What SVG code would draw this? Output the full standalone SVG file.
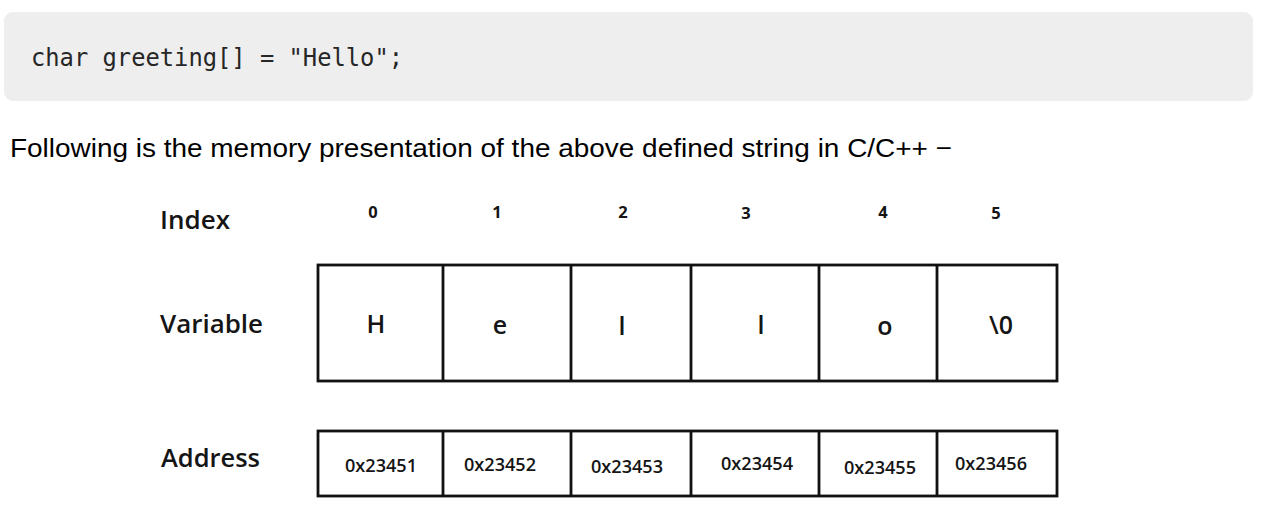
<svg xmlns="http://www.w3.org/2000/svg" width="1275" height="524" viewBox="0 0 1275 524">
<style>
.code{font-family:"DejaVu Sans Mono","Liberation Mono",monospace;font-size:24px;fill:#262626}
.para{font-family:"Liberation Sans",Arial,sans-serif;font-size:26.5px;fill:#000}
.lbl{font-family:"Open Sans","Noto Sans",sans-serif;font-size:25px;font-weight:600;fill:#151515}
.idx{font-family:"Open Sans","Noto Sans",sans-serif;font-size:16.5px;font-weight:700;fill:#151515;text-anchor:middle}
.ch{font-family:"Open Sans","Noto Sans",sans-serif;font-size:25px;font-weight:600;fill:#151515;text-anchor:middle}
.addr{font-family:"Open Sans","Noto Sans",sans-serif;font-size:18px;font-weight:600;fill:#151515;text-anchor:middle}
.cell{fill:#fff;stroke:#111;stroke-width:2.8}
.div{stroke:#111;stroke-width:2.8}
</style>
<rect width="1275" height="524" fill="#fff"/>
<g id="codeblock">
<rect x="4" y="12" width="1249" height="89" rx="9" fill="#eeeeee"/>
<text class="code" x="31" y="66" textLength="372" lengthAdjust="spacingAndGlyphs" xml:space="preserve">char greeting[] = "Hello";</text>
</g>
<text class="para" x="10" y="157" textLength="942" lengthAdjust="spacingAndGlyphs">Following is the memory presentation of the above defined string in C/C++ −</text>
<g id="labels">
<text class="lbl" x="160" y="229" textLength="70" lengthAdjust="spacingAndGlyphs">Index</text>
<text class="lbl" x="160" y="333" textLength="103" lengthAdjust="spacingAndGlyphs">Variable</text>
<text class="lbl" x="161" y="467" textLength="99" lengthAdjust="spacingAndGlyphs">Address</text>
</g>
<g id="index">
<text class="idx" x="373" y="218">0</text>
<text class="idx" x="497" y="218">1</text>
<text class="idx" x="623" y="218">2</text>
<text class="idx" x="746" y="219">3</text>
<text class="idx" x="883" y="218">4</text>
<text class="idx" x="996" y="219">5</text>
</g>
<g id="variable">
<rect class="cell" x="318" y="265" width="739" height="116"/>
<line class="div" x1="443" y1="265" x2="443" y2="381"/>
<line class="div" x1="571" y1="265" x2="571" y2="381"/>
<line class="div" x1="691" y1="265" x2="691" y2="381"/>
<line class="div" x1="819" y1="265" x2="819" y2="381"/>
<line class="div" x1="937" y1="265" x2="937" y2="381"/>
<text class="ch" x="376" y="333">H</text>
<text class="ch" x="500" y="334">e</text>
<text class="ch" x="622" y="335">l</text>
<text class="ch" x="761" y="334">l</text>
<text class="ch" x="885" y="335">o</text>
<text class="ch" x="1001" y="334">\0</text>
</g>
<g id="address">
<rect class="cell" x="318" y="431" width="739" height="65"/>
<line class="div" x1="443" y1="431" x2="443" y2="496"/>
<line class="div" x1="571" y1="431" x2="571" y2="496"/>
<line class="div" x1="691" y1="431" x2="691" y2="496"/>
<line class="div" x1="819" y1="431" x2="819" y2="496"/>
<line class="div" x1="937" y1="431" x2="937" y2="496"/>
<text class="addr" x="381" y="472" textLength="72" lengthAdjust="spacingAndGlyphs">0x23451</text>
<text class="addr" x="500" y="471" textLength="72" lengthAdjust="spacingAndGlyphs">0x23452</text>
<text class="addr" x="627" y="473" textLength="72" lengthAdjust="spacingAndGlyphs">0x23453</text>
<text class="addr" x="757" y="470" textLength="72" lengthAdjust="spacingAndGlyphs">0x23454</text>
<text class="addr" x="880" y="474" textLength="72" lengthAdjust="spacingAndGlyphs">0x23455</text>
<text class="addr" x="991" y="470" textLength="72" lengthAdjust="spacingAndGlyphs">0x23456</text>
</g>
</svg>
